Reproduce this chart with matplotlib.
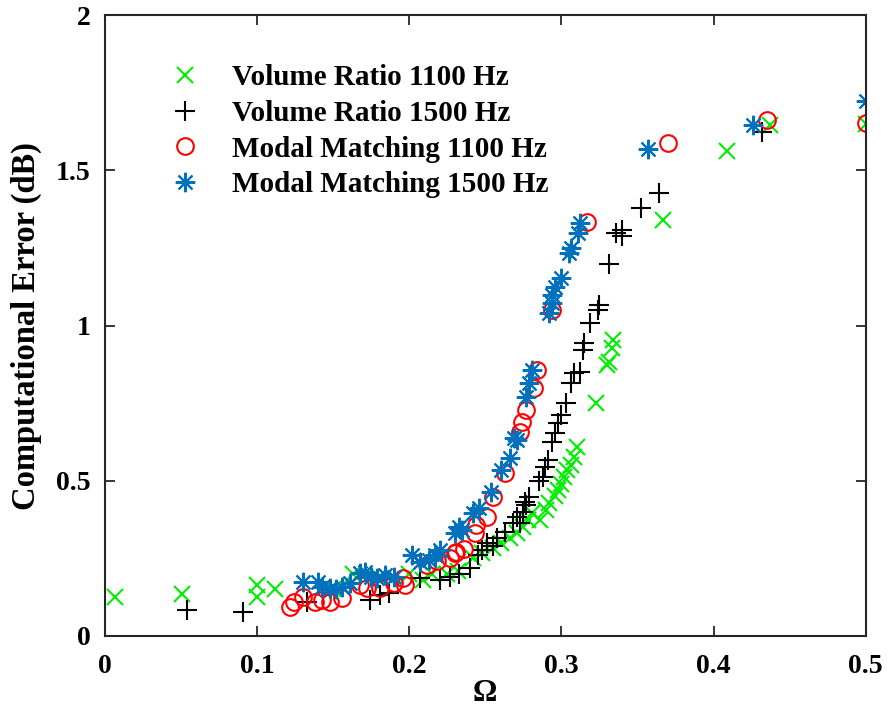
import matplotlib
matplotlib.use("Agg")
import matplotlib.pyplot as plt

plt.rcParams['font.family'] = ['Liberation Serif', 'DejaVu Serif']
plt.rcParams['font.weight'] = 'bold'

# Volume Ratio 1100 Hz
vr1100_x = [0.007, 0.051, 0.100, 0.100, 0.112, 0.150, 0.163, 0.180, 0.200, 0.209, 0.215, 0.225,
            0.232, 0.242, 0.248, 0.255, 0.260, 0.266, 0.271, 0.275, 0.278, 0.281, 0.286, 0.290,
            0.292, 0.296, 0.298, 0.300, 0.302, 0.304, 0.306, 0.308, 0.310, 0.323, 0.330, 0.331,
            0.333, 0.334, 0.367, 0.409, 0.437, 0.500]
vr1100_y = [0.125, 0.135, 0.165, 0.125, 0.150, 0.150, 0.200, 0.190, 0.200, 0.180, 0.200, 0.200,
            0.210, 0.250, 0.267, 0.283, 0.300, 0.315, 0.332, 0.350, 0.374, 0.396, 0.374, 0.406,
            0.428, 0.450, 0.470, 0.490, 0.512, 0.535, 0.550, 0.577, 0.609, 0.750, 0.873, 0.884,
            0.928, 0.953, 1.340, 1.562, 1.646, 1.650]

# Volume Ratio 1500 Hz
vr1500_x = [0.054, 0.091, 0.133, 0.174, 0.181, 0.187, 0.207, 0.220, 0.227, 0.233, 0.240, 0.245,
            0.248, 0.251, 0.255, 0.258, 0.263, 0.268, 0.271, 0.273, 0.275, 0.276, 0.277, 0.279,
            0.285, 0.288, 0.289, 0.291, 0.294, 0.296, 0.298, 0.300, 0.303, 0.306, 0.308, 0.312,
            0.314, 0.315, 0.319, 0.324, 0.325, 0.331, 0.336, 0.340, 0.340, 0.352, 0.364, 0.432]
vr1500_y = [0.084, 0.077, 0.110, 0.116, 0.132, 0.138, 0.187, 0.180, 0.190, 0.200, 0.220, 0.260,
            0.277, 0.300, 0.290, 0.315, 0.335, 0.364, 0.383, 0.364, 0.400, 0.432, 0.422, 0.448,
            0.500, 0.512, 0.544, 0.567, 0.625, 0.654, 0.686, 0.712, 0.750, 0.815, 0.847, 0.850,
            0.920, 0.943, 1.008, 1.050, 1.066, 1.200, 1.300, 1.308, 1.288, 1.380, 1.427, 1.623]

# Modal Matching 1100 Hz
mm1100_x = [0.122, 0.124, 0.130, 0.138, 0.143, 0.148, 0.156, 0.168, 0.172, 0.181, 0.190, 0.196,
            0.197, 0.212, 0.218, 0.227, 0.230, 0.231, 0.236, 0.243, 0.244, 0.251, 0.255, 0.263,
            0.273, 0.274, 0.277, 0.282, 0.284, 0.294, 0.317, 0.370, 0.435, 0.500]
mm1100_y = [0.093, 0.110, 0.126, 0.110, 0.116, 0.110, 0.122, 0.164, 0.155, 0.155, 0.170, 0.187,
            0.164, 0.229, 0.240, 0.250, 0.267, 0.270, 0.280, 0.331, 0.357, 0.383, 0.448, 0.525,
            0.657, 0.690, 0.728, 0.800, 0.857, 1.050, 1.333, 1.588, 1.662, 1.652]

# Modal Matching 1500 Hz
mm1500_x = [0.130, 0.140, 0.143, 0.148, 0.152, 0.156, 0.161, 0.168, 0.171, 0.175, 0.179, 0.184,
            0.190, 0.202, 0.207, 0.213, 0.217, 0.220, 0.230, 0.233, 0.235, 0.242, 0.246, 0.254,
            0.260, 0.266, 0.269, 0.271, 0.277, 0.279, 0.281, 0.292, 0.294, 0.294, 0.296, 0.300,
            0.305, 0.306, 0.311, 0.312, 0.357, 0.426, 0.500]
mm1500_y = [0.174, 0.174, 0.158, 0.155, 0.150, 0.158, 0.171, 0.203, 0.206, 0.190, 0.187, 0.196,
            0.190, 0.260, 0.238, 0.245, 0.260, 0.277, 0.331, 0.351, 0.341, 0.396, 0.412, 0.464,
            0.535, 0.573, 0.637, 0.631, 0.770, 0.815, 0.857, 1.040, 1.072, 1.098, 1.125, 1.153,
            1.233, 1.250, 1.298, 1.330, 1.568, 1.646, 1.723]

labels = ['Volume Ratio 1100 Hz', 'Volume Ratio 1500 Hz',
          'Modal Matching 1100 Hz', 'Modal Matching 1500 Hz']
x_ticks = [0, 0.1, 0.2, 0.3, 0.4, 0.5]
x_tick_labels = ['0', '0.1', '0.2', '0.3', '0.4', '0.5']
y_ticks = [0, 0.5, 1, 1.5, 2]
y_tick_labels = ['0', '0.5', '1', '1.5', '2']

fig = plt.figure(figsize=(8.88, 7.26), dpi=100)
ax = fig.add_axes([0.118, 0.124, 0.857, 0.855])

lw = 1.5
ax.plot(vr1100_x, vr1100_y, linestyle='none', marker='x', ms=12, mew=lw,
        color='#00ee00', label=labels[0])
ax.plot(vr1500_x, vr1500_y, linestyle='none', marker='+', ms=14, mew=lw,
        color='black', label=labels[1])
ax.plot(mm1100_x, mm1100_y, linestyle='none', marker='o', ms=12, mew=lw,
        mfc='none', color='#ff0000', label=labels[2])
ax.plot(mm1500_x, mm1500_y, linestyle='none', marker=(8, 2, 0), ms=14, mew=lw,
        color='#0072BD', label=labels[3])

ax.set_xlim(0, 0.5)
ax.set_ylim(0, 2)
ax.set_xticks(x_ticks)
ax.set_xticklabels(x_tick_labels)
ax.set_yticks(y_ticks)
ax.set_yticklabels(y_tick_labels)
ax.tick_params(direction='in', length=7, width=1.3, labelsize=20, top=True, right=True,
               colors='#262626', labelcolor='black')
ax.tick_params(axis='x', pad=13)
ax.tick_params(axis='y', pad=10)
for s in ax.spines.values():
    s.set_linewidth(1.5)
    s.set_color('#262626')

ax.set_xlabel('Ω', fontsize=22, fontweight='bold', labelpad=0)
ax.set_ylabel('Computational Error (dB)', fontsize=23.5, fontweight='bold', labelpad=10)

leg = ax.legend(loc='upper left', bbox_to_anchor=(0.056, 0.94), frameon=False,
                prop={'family': 'Liberation Serif', 'weight': 'bold', 'size': 21},
                handletextpad=0.7, handlelength=1.8, labelspacing=0.3, borderaxespad=0)

fig.savefig('out.png', dpi=100)
